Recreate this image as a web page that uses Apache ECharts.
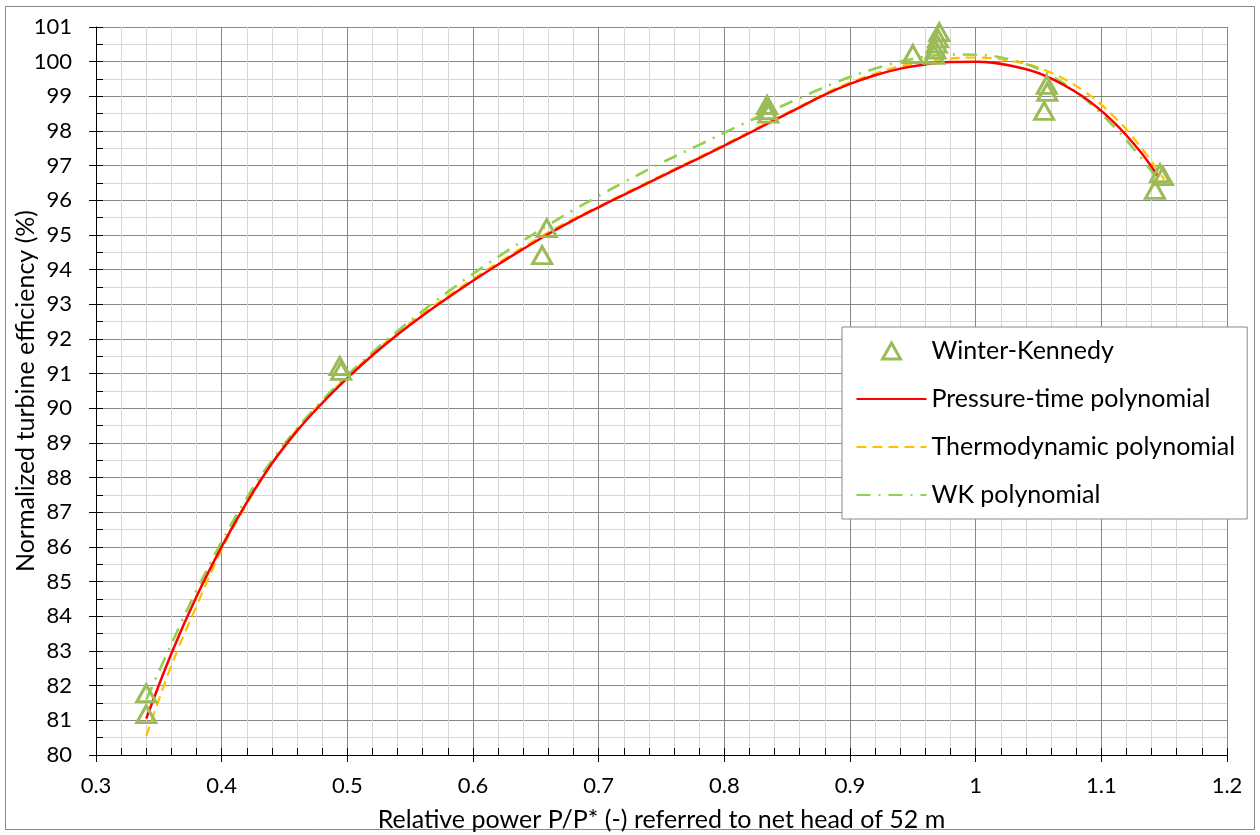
<!DOCTYPE html>
<html>
<head>
<meta charset="utf-8">
<script src="https://cdn.jsdelivr.net/npm/echarts@6/dist/echarts.min.js"></script>
<style>
html,body{margin:0;padding:0;background:#fff;}
#c{width:1260px;height:835px;}
</style>
</head>
<body>
<div id="c"></div>
<script>
// ---- Data ----
const xTicks = ['0.3','0.4','0.5','0.6','0.7','0.8','0.9','1','1.1','1.2'];
const yTicks = ['80','81','82','83','84','85','86','87','88','89','90','91','92','93','94','95','96','97','98','99','100','101'];

const wkX = [0.340, 0.340, 0.494, 0.495, 0.6587, 0.655, 0.834, 0.834, 0.835, 0.9500,
             0.967, 0.968, 0.969, 0.970, 0.971, 1.0566, 1.057, 1.0545, 1.1467, 1.149, 1.1427];
const wkY = [81.78, 81.18, 91.22, 91.08, 95.20, 94.42, 98.75, 98.60, 98.50, 100.22,
             100.20, 100.35, 100.52, 100.67, 100.85, 99.33, 99.13, 98.58, 96.78, 96.70, 96.30];

const ptX = [0.34,0.36,0.38,0.40,0.42,0.44,0.46,0.48,0.50,0.52,0.54,0.56,0.58,0.60,0.62,0.64,0.66,0.68,0.70,0.72,0.75,0.78,0.80,0.83,0.86,0.88,0.90,0.92,0.94,0.96,0.98,1.00,1.03,1.055,1.085,1.11,1.13,1.145];
const ptY = [81.05,82.93,84.57,86.01,87.29,88.41,89.35,90.15,90.87,91.53,92.13,92.68,93.19,93.68,94.15,94.6,95.03,95.43,95.8,96.16,96.69,97.22,97.58,98.13,98.68,99.05,99.36,99.61,99.8,99.92,99.99,100.0,99.87,99.6,99.0,98.25,97.45,96.7];

const thX = [0.34,0.36,0.38,0.40,0.42,0.44,0.46,0.48,0.50,0.52,0.54,0.56,0.58,0.60,0.62,0.64,0.66,0.68,0.70,0.72,0.75,0.78,0.80,0.83,0.86,0.88,0.90,0.92,0.94,0.96,0.98,1.00,1.03,1.055,1.085,1.11,1.13,1.15];
const thY = [80.55,82.58,84.3,85.92,87.24,88.41,89.4,90.2,90.92,91.58,92.18,92.73,93.24,93.73,94.2,94.65,95.08,95.47,95.83,96.19,96.72,97.25,97.61,98.16,98.71,99.08,99.4,99.66,99.87,100.0,100.09,100.12,100.01,99.76,99.18,98.42,97.6,96.6];

const wkpX = [0.34,0.36,0.38,0.40,0.42,0.44,0.46,0.48,0.50,0.52,0.54,0.56,0.58,0.60,0.62,0.64,0.66,0.68,0.70,0.72,0.75,0.78,0.80,0.83,0.86,0.89,0.92,0.95,0.98,1.00,1.03,1.055,1.085,1.11,1.13,1.145];
const wkpY = [81.6,83.2,84.75,86.15,87.42,88.5,89.42,90.23,90.95,91.61,92.23,92.81,93.36,93.88,94.37,94.84,95.29,95.72,96.13,96.52,97.08,97.6,97.95,98.46,98.95,99.42,99.8,100.08,100.21,100.2,100.04,99.69,98.98,98.13,97.3,96.6];

const seriesNames = ['Winter-Kennedy','Pressure-time polynomial','Thermodynamic polynomial','WK polynomial'];
const xTitle = 'Relative power P/P* (-) referred to net head of 52 m';
const yTitle = 'Normalized turbine efficiency (%)';

// ---- Build ----
const pairs = (xs, ys) => xs.map((x, i) => [x, ys[i]]);
const FONT = 'Lato';
const xMin = parseFloat(xTicks[0]), xMax = parseFloat(xTicks[xTicks.length - 1]);
const yMin = parseFloat(yTicks[0]), yMax = parseFloat(yTicks[yTicks.length - 1]);

const GREEN_MK = '#9BBB59';
const chart = echarts.init(document.getElementById('c'), null, {renderer: 'canvas'});

const baseX = {type: 'value', min: xMin, max: xMax, interval: 0.1, position: 'bottom'};
const baseY = {type: 'value', min: yMin, max: yMax, interval: 1, position: 'left'};
const noLegendSymbol = {opacity: 0};

chart.setOption({
  animation: false,
  backgroundColor: '#fff',
  textStyle: {fontFamily: FONT},
  grid: {left: 96, top: 27, right: 33, bottom: 80, containLabel: false, outerBoundsMode: 'none'},
  graphic: [{
    type: 'rect', silent: true, z: -10,
    shape: {x: 5.5, y: 6.5, width: 1249, height: 823},
    style: {fill: 'none', stroke: '#898989', lineWidth: 1}
  }],
  xAxis: [
    Object.assign({}, baseX, {
      name: xTitle, nameLocation: 'middle', nameGap: 52, nameMoveOverlap: false,
      nameTextStyle: {fontFamily: FONT, fontSize: 25, color: '#000'},
      axisLine: {show: true, onZero: false, lineStyle: {color: '#000', width: 1}},
      axisTick: {show: true, inside: false, length: 7, lineStyle: {color: '#000'}},
      axisLabel: {show: true, margin: 20, fontFamily: FONT, fontSize: 22, color: '#000',
        hideOverlap: false,
        formatter: v => xTicks[Math.round((v - xMin) / 0.1)]},
      splitLine: {show: true, lineStyle: {color: '#878787', width: 1}},
      minorTick: {show: false, splitNumber: 5},
      minorSplitLine: {show: true, lineStyle: {color: '#d6d6d6', width: 1}}
    }),
    Object.assign({}, baseX, {
      axisLine: {show: false},
      axisTick: {show: true, inside: true, length: 7, lineStyle: {color: '#000'}},
      axisLabel: {show: false},
      splitLine: {show: false},
      minorTick: {show: true, splitNumber: 5, length: 7, lineStyle: {color: '#000'}},
      minorSplitLine: {show: false}
    })
  ],
  yAxis: [
    Object.assign({}, baseY, {
      name: yTitle, nameLocation: 'middle', nameGap: 58, nameRotate: 90, nameMoveOverlap: false,
      nameTextStyle: {fontFamily: FONT, fontSize: 25, color: '#000'},
      axisLine: {show: true, onZero: false, lineStyle: {color: '#000', width: 1}},
      axisTick: {show: true, inside: false, length: 7, lineStyle: {color: '#000'}},
      axisLabel: {show: true, margin: 24, fontFamily: FONT, fontSize: 22, color: '#000',
        hideOverlap: false,
        formatter: v => yTicks[Math.round(v - yMin)]},
      splitLine: {show: true, lineStyle: {color: '#878787', width: 1}},
      minorTick: {show: false, splitNumber: 2},
      minorSplitLine: {show: true, lineStyle: {color: '#d6d6d6', width: 1}}
    }),
    Object.assign({}, baseY, {
      axisLine: {show: false},
      axisTick: {show: true, inside: true, length: 7, lineStyle: {color: '#000'}},
      axisLabel: {show: false},
      splitLine: {show: false},
      minorTick: {show: true, splitNumber: 2, length: 7, lineStyle: {color: '#000'}},
      minorSplitLine: {show: false}
    })
  ],
  legend: {
    orient: 'vertical', left: 842, top: 327,
    backgroundColor: '#fff', borderColor: '#898989', borderWidth: 1, borderRadius: 0,
    padding: [10, 12, 10, 13],
    itemWidth: 70, itemHeight: 18, itemGap: 20,
    textStyle: {fontFamily: FONT, fontSize: 25, color: '#000', lineHeight: 28},
    data: [
      {name: seriesNames[0], icon: 'path://M0,0M70,18M26,17L35,1L44,17Z',
       itemStyle: {color: 'rgba(0,0,0,0)', borderColor: GREEN_MK, borderWidth: 3, opacity: 1}},
      {name: seriesNames[1], itemStyle: noLegendSymbol},
      {name: seriesNames[2], itemStyle: noLegendSymbol},
      {name: seriesNames[3], itemStyle: noLegendSymbol}
    ]
  },
  series: [
    {
      name: seriesNames[0], type: 'scatter', z: 5,
      data: pairs(wkX, wkY),
      symbol: 'triangle', symbolSize: [19, 17],
      itemStyle: {color: 'rgba(0,0,0,0)', borderColor: GREEN_MK, borderWidth: 3, opacity: 1}
    },
    {
      name: seriesNames[1], type: 'line', z: 4, smooth: 0.4,
      data: pairs(ptX, ptY), showSymbol: false, symbol: 'none',
      lineStyle: {color: '#FF0000', width: 2.5, type: 'solid'},
      itemStyle: {color: '#FF0000'}
    },
    {
      name: seriesNames[2], type: 'line', z: 3, smooth: 0.4,
      data: pairs(thX, thY), showSymbol: false, symbol: 'none',
      lineStyle: {color: '#FFC000', width: 2.2, type: [10, 6]},
      itemStyle: {color: '#FFC000'}
    },
    {
      name: seriesNames[3], type: 'line', z: 3, smooth: 0.4,
      data: pairs(wkpX, wkpY), showSymbol: false, symbol: 'none',
      lineStyle: {color: '#92D050', width: 2.6, type: [14, 8, 2, 8]},
      itemStyle: {color: '#92D050'}
    }
  ]
});
</script>
</body>
</html>
